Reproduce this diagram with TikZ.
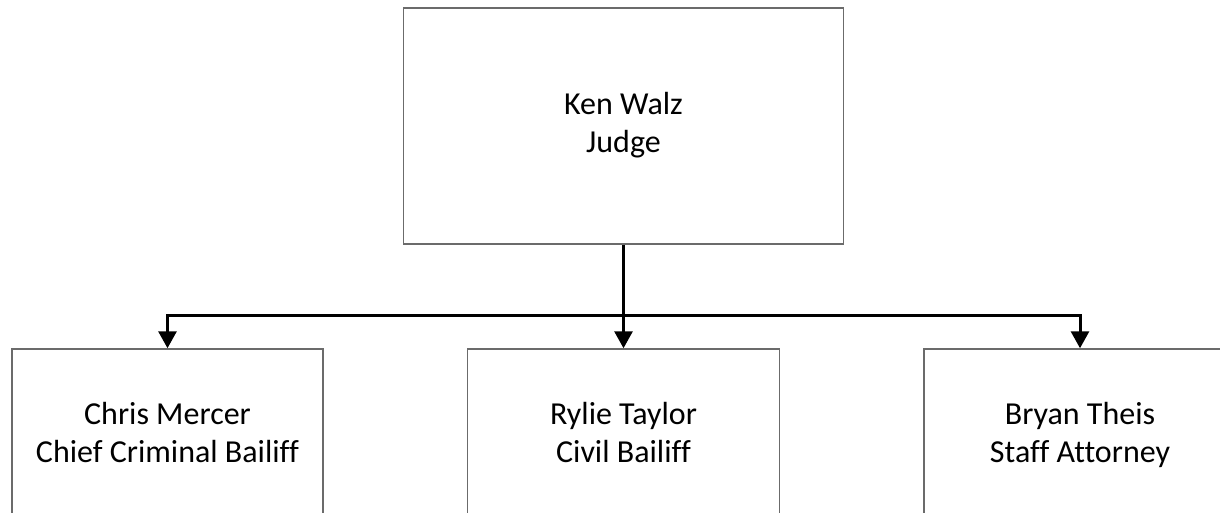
\documentclass[tikz,border=0pt]{standalone}
\usepackage{fontspec}
\setmainfont{Carlito}[Ligatures={NoCommon}]
\usetikzlibrary{arrows.meta}
\begin{document}
\begin{tikzpicture}[x=1pt,y=1pt,
  box/.style={draw=black!58, line width=1.5pt, fill=white, align=center,
    font=\fontsize{32}{37.5}\selectfont, inner sep=0pt},
  conn/.style={draw=black, line width=3pt, line join=miter},
  arr/.style={-{Triangle[length=17pt,width=18pt]}}]
\useasboundingbox (0,0) rectangle (1220,-513);
\node[box, minimum width=440pt, minimum height=236pt] (top) at (623.5,-126) {\strut Ken Walz\\Judge\strut};
\node[box, minimum width=311pt, minimum height=174pt] (b1) at (167.5,-436) {\strut Chris Mercer\\Chief Criminal Bailiff\strut};
\node[box, minimum width=312pt, minimum height=174pt] (b2) at (623.5,-436) {\strut Rylie Taylor\\Civil Bailiff\strut};
\node[box, minimum width=312pt, minimum height=174pt] (b3) at (1080,-436) {\strut Bryan Theis\\Staff Attorney\strut};
\coordinate (bus) at (0,-315);
\draw[conn] (top.south) -- (top.south |- bus);
\draw[conn,arr] (top.south |- bus) -| (b1.north);
\draw[conn,arr] (top.south |- bus) -| (b3.north);
\draw[conn,arr] (top.south |- bus) -- (b2.north);
\end{tikzpicture}
\end{document}
